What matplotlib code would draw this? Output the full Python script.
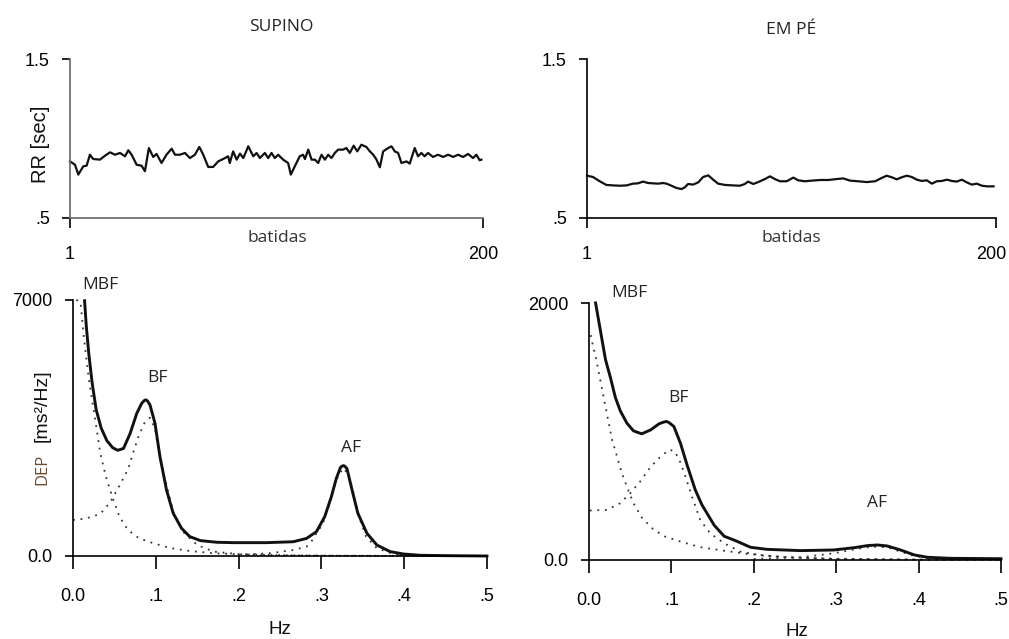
import matplotlib
matplotlib.use("Agg")
import matplotlib.pyplot as plt
from matplotlib.transforms import offset_copy

W, H = 1009, 639

# RR tachograms (beat index, RR interval in seconds)
sup_beats = [1.0, 3.4, 5.0, 7.4, 9.0, 10.6, 12.2, 15.4, 17.9, 20.3, 22.7, 25.1, 27.5, 29.1,
             30.7, 33.1, 35.5, 37.1, 39.0, 41.1, 42.7, 45.1, 47.5, 50.0, 51.6, 54.0, 56.4,
             58.8, 61.2, 63.3, 65.2, 67.6, 70.0, 72.4, 74.8, 77.2, 78.0, 79.6, 81.3, 82.9,
             84.5, 86.9, 89.3, 90.9, 92.5, 94.9, 96.5, 98.1, 99.7, 101.3, 103.7, 106.1,
             107.4, 109.3, 111.7, 113.3, 114.2, 115.8, 117.4, 119.0, 120.6, 122.2, 123.8,
             125.4, 127.0, 128.6, 130.2, 132.6, 134.2, 135.8, 137.7, 139.4, 141.4, 143.8,
             145.5, 147.1, 148.7, 150.3, 151.9, 154.3, 155.9, 157.5, 159.1, 160.7, 163.1,
             164.7, 167.1, 168.7, 170.3, 171.9, 173.5, 175.9, 178.3, 180.8, 183.2, 185.6,
             188.0, 190.4, 192.8, 195.2, 196.8, 198.4, 199.2]
sup_rr = [0.856, 0.835, 0.773, 0.825, 0.829, 0.898, 0.871, 0.867, 0.892, 0.913, 0.898, 0.909,
          0.888, 0.926, 0.898, 0.835, 0.829, 0.794, 0.940, 0.884, 0.903, 0.846, 0.898, 0.936,
          0.898, 0.898, 0.909, 0.877, 0.898, 0.947, 0.898, 0.821, 0.821, 0.856, 0.871, 0.888,
          0.846, 0.919, 0.867, 0.905, 0.877, 0.951, 0.888, 0.909, 0.877, 0.909, 0.877, 0.909,
          0.877, 0.898, 0.867, 0.846, 0.773, 0.825, 0.888, 0.898, 0.871, 0.930, 0.867, 0.867,
          0.846, 0.898, 0.867, 0.898, 0.877, 0.909, 0.930, 0.930, 0.940, 0.909, 0.955, 0.919,
          0.961, 0.947, 0.919, 0.898, 0.867, 0.819, 0.919, 0.940, 0.951, 0.919, 0.909, 0.846,
          0.856, 0.842, 0.940, 0.888, 0.909, 0.888, 0.909, 0.884, 0.898, 0.884, 0.898, 0.884,
          0.898, 0.884, 0.903, 0.877, 0.898, 0.863, 0.867]

pe_beats = [1.0, 3.9, 7.2, 10.4, 13.7, 16.9, 20.2, 23.4, 25.8, 28.3, 30.7, 33.2, 35.6, 38.0,
            39.7, 42.1, 44.5, 47.0, 48.6, 50.2, 52.6, 55.1, 57.5, 60.0, 62.4, 64.8, 68.1,
            72.1, 75.4, 77.8, 79.4, 81.9, 84.3, 87.6, 90.0, 92.4, 94.9, 98.1, 101.4, 103.8,
            107.0, 110.3, 114.4, 118.4, 122.5, 125.7, 129.0, 133.0, 137.1, 141.2, 144.4,
            146.8, 149.3, 151.7, 154.1, 156.6, 159.0, 161.5, 163.9, 166.3, 168.8, 171.2,
            173.6, 176.1, 178.5, 180.9, 183.4, 185.8, 188.2, 190.7, 193.1, 195.6, 198.8]
pe_rr = [0.766, 0.758, 0.731, 0.708, 0.705, 0.703, 0.705, 0.716, 0.718, 0.729, 0.720, 0.718,
         0.716, 0.720, 0.716, 0.703, 0.689, 0.682, 0.693, 0.714, 0.710, 0.724, 0.758, 0.768,
         0.741, 0.716, 0.708, 0.705, 0.703, 0.714, 0.729, 0.714, 0.726, 0.745, 0.762, 0.745,
         0.731, 0.731, 0.754, 0.737, 0.731, 0.735, 0.739, 0.739, 0.745, 0.749, 0.735, 0.731,
         0.726, 0.731, 0.752, 0.766, 0.756, 0.743, 0.756, 0.766, 0.758, 0.741, 0.733, 0.737,
         0.716, 0.731, 0.733, 0.741, 0.733, 0.729, 0.741, 0.724, 0.710, 0.716, 0.703, 0.699,
         0.699]

# power spectra, supine (ms^2/Hz)
sup_total_hz = [0.014, 0.016, 0.019, 0.023, 0.028, 0.034, 0.041, 0.048, 0.054, 0.061, 0.069,
                0.077, 0.083, 0.086, 0.088, 0.090, 0.093, 0.099, 0.105, 0.113, 0.121, 0.131,
                0.141, 0.154, 0.174, 0.194, 0.234, 0.266, 0.282, 0.294, 0.304, 0.312, 0.318,
                0.323, 0.325, 0.327, 0.329, 0.331, 0.336, 0.344, 0.355, 0.367, 0.383, 0.399,
                0.419, 0.447, 0.500]
sup_total = [6980, 6300, 5550, 4750, 4000, 3500, 3150, 2960, 2890, 2940, 3350, 3900, 4175,
             4250, 4270, 4240, 4130, 3630, 2720, 1800, 1170, 760, 530, 420, 375, 365, 365,
             390, 480, 665, 1075, 1620, 2120, 2420, 2460, 2470, 2440, 2380, 1900, 1170, 620,
             300, 120, 55, 20, 10, 0]
sup_mbf_hz = [0.004, 0.009, 0.013, 0.019, 0.027, 0.033, 0.040, 0.047, 0.056, 0.066, 0.080,
              0.097, 0.117, 0.140, 0.170, 0.210, 0.260, 0.330, 0.420, 0.500]
sup_mbf = [7000, 6950, 6000, 4850, 3700, 2800, 2150, 1650, 1080, 720, 480, 350, 220, 140,
           75, 40, 20, 8, 3, 0]
sup_bf_hz = [0.0, 0.015, 0.033, 0.045, 0.057, 0.067, 0.073, 0.079, 0.087, 0.093, 0.099,
             0.105, 0.113, 0.121, 0.133, 0.150, 0.170, 0.200, 0.250, 0.300, 0.400, 0.500]
sup_bf = [984, 1020, 1150, 1470, 1960, 2400, 2850, 3260, 3670, 3780, 3490, 2670, 1940, 1210,
          660, 300, 120, 50, 20, 10, 3, 0]
sup_af_hz = [0.200, 0.240, 0.266, 0.282, 0.288, 0.294, 0.302, 0.310, 0.318, 0.326, 0.332,
             0.338, 0.346, 0.354, 0.367, 0.387, 0.415, 0.450, 0.500]
sup_af = [30, 80, 165, 255, 400, 620, 890, 1440, 2080, 2400, 2260, 1800, 1030, 530, 210, 55,
          10, 3, 0]

# power spectra, standing (ms^2/Hz)
pe_total_hz = [0.008, 0.014, 0.020, 0.026, 0.032, 0.038, 0.046, 0.054, 0.064, 0.075, 0.085,
               0.091, 0.094, 0.097, 0.103, 0.111, 0.119, 0.129, 0.137, 0.152, 0.164, 0.178,
               0.196, 0.216, 0.257, 0.297, 0.322, 0.338, 0.350, 0.362, 0.378, 0.395, 0.411,
               0.439, 0.500]
pe_total = [2000, 1780, 1560, 1420, 1265, 1160, 1065, 1005, 982, 1013, 1060, 1074, 1078, 1070,
            1039, 909, 740, 545, 430, 270, 185, 150, 99, 83, 73, 78, 96, 112, 117, 109, 78, 39,
            21, 13, 10]
pe_mbf_hz = [0.002, 0.004, 0.008, 0.012, 0.016, 0.020, 0.024, 0.028, 0.034, 0.040, 0.046,
             0.054, 0.064, 0.077, 0.091, 0.111, 0.135, 0.164, 0.192, 0.237, 0.297, 0.400, 0.500]
pe_mbf = [1750, 1690, 1584, 1455, 1325, 1195, 1065, 935, 805, 675, 571, 442, 330, 245, 185,
          143, 100, 72, 48, 22, 10, 3, 2]
pe_bf_hz = [0.001, 0.022, 0.038, 0.050, 0.062, 0.075, 0.087, 0.097, 0.103, 0.109, 0.117,
            0.125, 0.135, 0.147, 0.164, 0.184, 0.210, 0.250, 0.300, 0.400, 0.500]
pe_bf = [385, 390, 442, 520, 610, 727, 805, 857, 850, 792, 649, 493, 312, 208, 130, 65, 35,
         18, 8, 3, 2]
pe_af_hz = [0.200, 0.257, 0.297, 0.322, 0.338, 0.350, 0.364, 0.378, 0.395, 0.411, 0.439, 0.500]
pe_af = [8, 21, 52, 83, 99, 104, 96, 65, 31, 16, 10, 8]

hz_ticks = [0.0, 0.1, 0.2, 0.3, 0.4, 0.5]
hz_labels = ["0.0", ".1", ".2", ".3", ".4", ".5"]

NUM_FONT = "Liberation Sans"
TXT_FONT = "Open Sans"


def frac(rect):
    """pixel box (left, top, right, bottom) -> figure fraction rect"""
    l, t, r, b = rect
    return [l / W, 1 - b / H, (r - l) / W, (b - t) / H]


def px(x, y):
    return x / W, 1 - y / H


def style_axes(ax, spine_color="black"):
    for side in ("top", "right"):
        ax.spines[side].set_visible(False)
    for side in ("left", "bottom"):
        ax.spines[side].set_linewidth(1.2)
        ax.spines[side].set_color(spine_color)
    ax.tick_params(direction="out", length=6, width=1.2, labelsize=13)
    for lab in ax.get_xticklabels() + ax.get_yticklabels():
        lab.set_fontfamily(NUM_FONT)


def rr_panel(rect, beats, rr, spine_color):
    ax = fig.add_axes(frac(rect))
    ax.plot(beats, rr, color="#111111", lw=1.6, clip_on=False)
    ax.set_xlim(1, 200)
    ax.set_ylim(0.5, 1.5)
    ax.set_xticks([1, 200])
    ax.set_xticklabels(["1", "200"])
    ax.set_yticks([0.5, 1.5])
    ax.set_yticklabels([".5", "1.5"])
    style_axes(ax, spine_color)
    ax.tick_params(axis="x", pad=13, length=7)
    ax.tick_params(axis="y", pad=8.5)
    return ax


def spectrum_panel(rect, ymax, total, comps, labels):
    ax = fig.add_axes(frac(rect))
    for hz, vals in comps:
        ax.plot(hz, vals, color="#333333", lw=1.3, ls=(0, (1, 3.2)), clip_on=False)
    ax.plot(total[0], total[1], color="#111111", lw=2.1, clip_on=False)
    ax.set_xlim(0, 0.5)
    ax.set_ylim(0, ymax)
    ax.set_xticks(hz_ticks)
    ax.set_xticklabels(hz_labels)
    ax.set_yticks([0, ymax])
    ax.set_yticklabels(["0.0", str(ymax)])
    style_axes(ax)
    ax.tick_params(axis="x", pad=14, length=9)
    ax.tick_params(axis="y", pad=8.5)
    for name, x, y in labels:
        ax.text(x, y, name, fontsize=12.5, family=TXT_FONT, color="#222222",
                ha="center", va="center", clip_on=False)
    return ax


fig = plt.figure(figsize=(W / 100, H / 100), dpi=100)

rr_panel((70, 59, 483, 218), sup_beats, sup_rr, "#666666")
ax_pe = rr_panel((587, 59, 996, 218), pe_beats, pe_rr, "black")
# keep the last beat label inside the canvas
last = ax_pe.get_xticklabels()[-1]
last.set_ha("right")
last.set_transform(offset_copy(last.get_transform(), fig=fig, x=10, units="dots"))

spectrum_panel((73, 300, 487, 556), 7000, (sup_total_hz, sup_total),
               [(sup_mbf_hz, sup_mbf), (sup_bf_hz, sup_bf), (sup_af_hz, sup_af)],
               [("MBF", 0.033, 7410), ("BF", 0.102, 4860), ("AF", 0.336, 2950)])
spectrum_panel((589, 303, 1001, 560), 2000, (pe_total_hz, pe_total),
               [(pe_mbf_hz, pe_mbf), (pe_bf_hz, pe_bf), (pe_af_hz, pe_af)],
               [("MBF", 0.049, 2080), ("BF", 0.109, 1260), ("AF", 0.349, 440)])

# titles and axis captions
fig.text(*px(281, 27), "SUPINO", fontsize=12.5, family=TXT_FONT, color="#222222",
         ha="center", va="center")
fig.text(*px(791, 30), "EM PÉ", fontsize=12.5, family=TXT_FONT, color="#222222",
         ha="center", va="center")
fig.text(*px(277, 238), "batidas", fontsize=12.5, family=TXT_FONT, color="#333333",
         ha="center", va="center")
fig.text(*px(791, 238), "batidas", fontsize=12.5, family=TXT_FONT, color="#333333",
         ha="center", va="center")
fig.text(*px(40, 144), "RR [sec]", fontsize=14.5, family=NUM_FONT, color="#111111",
         rotation=90, ha="center", va="center")
fig.text(*px(42, 469), "DEP", fontsize=12, family=TXT_FONT, color="#6a4a30",
         rotation=90, ha="center", va="center")
fig.text(*px(42, 406), "[ms²/Hz]", fontsize=14, family=NUM_FONT, color="#111111",
         rotation=90, ha="center", va="center")
fig.text(*px(280, 630), "Hz", fontsize=13.5, family=NUM_FONT, color="#111111",
         ha="center", va="center")
fig.text(*px(797, 632), "Hz", fontsize=13.5, family=NUM_FONT, color="#111111",
         ha="center", va="center")

fig.savefig("out.png", dpi=100)
